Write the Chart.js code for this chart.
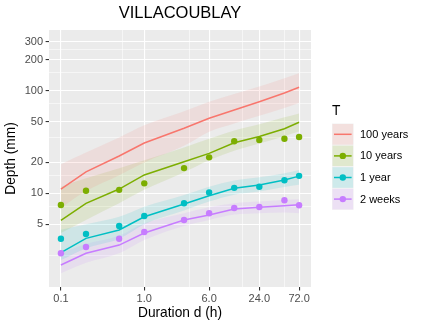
<!DOCTYPE html>
<html><head><meta charset="utf-8">
<script src="https://cdn.jsdelivr.net/npm/chart.js@4"></script>
<style>html,body{margin:0;padding:0;background:#fff}#wrap{width:425px;height:328px;position:relative}</style>
</head><body><div id="wrap"><canvas id="c" width="425" height="328"></canvas></div>
<script>
const FONT = "'Liberation Sans', Arial, Helvetica, sans-serif";
const durations = [0.1, 0.2, 0.5, 1, 3, 6, 12, 24, 48, 72];
const seriesNames = ['100 years', '10 years', '1 year', '2 weeks'];
const seriesColors = ['#F8766D', '#7CAE00', '#00BFC4', '#C77CFF'];

const line100y = [11.0, 16.2, 23.1, 30.9, 43.0, 53.8, 64.9, 78.1, 95.0, 108];
const upper100y = [19.2, 25, 35, 46, 63, 78, 93, 110, 132, 148];
const lower100y = [7.2, 10.5, 15, 20, 29, 39.8, 48, 57, 68, 76];

const line10y = [5.46, 7.99, 11.0, 15.1, 20.3, 24.5, 31.1, 35.8, 42.6, 49.2];
const upper10y = [11.6, 14, 17.5, 21, 28, 34, 41, 47, 55, 60];
const lower10y = [4.1, 5.5, 8.0, 10.8, 16, 21, 26, 30.5, 36, 40];
const obs10y = [7.69, 10.6, 10.8, 12.5, 17.6, 22.4, 32.2, 33.1, 34.0, 35.4];

const line1y = [2.64, 3.64, 4.39, 5.91, 7.87, 9.48, 11.2, 12.05, 13.5, 14.7];
const upper1y = [4.4, 5.0, 5.9, 7.4, 9.6, 11.6, 13.3, 14.3, 15.7, 16.9];
const lower1y = [2.23, 2.9, 3.6, 5.0, 6.8, 8.3, 9.7, 10.4, 11.5, 12.1];
const obs1y = [3.61, 4.01, 4.80, 6.01, 7.99, 10.2, 11.3, 11.6, 13.4, 14.8];

const line2w = [2.0, 2.60, 3.13, 4.10, 5.49, 6.14, 7.03, 7.30, 7.57, 7.74];
const upper2w = [2.6, 3.2, 3.85, 5.1, 6.4, 7.3, 8.0, 8.3, 8.6, 8.74];
const lower2w = [1.66, 2.1, 2.6, 3.5, 4.8, 5.5, 6.2, 6.4, 6.5, 6.4];
const obs2w = [2.60, 3.0, 3.61, 4.20, 5.49, 6.38, 7.19, 7.35, 8.55, 7.64];

const xMajorTicks = [0.1, 1, 6, 24, 72];
const xMinorTicks = [0.55, 3.5, 15, 48];
const yMajorTicks = [5, 10, 20, 50, 100, 200, 300];
const yMinorTicks = [2.5, 7.5, 15, 35, 75, 150, 250];

const lines = [line100y, line10y, line1y, line2w];
const uppers = [upper100y, upper10y, upper1y, upper2w];
const lowers = [lower100y, lower10y, lower1y, lower2w];
const obs = [null, obs10y, obs1y, obs2w];

function rgba(hex, a) {
  const n = parseInt(hex.slice(1), 16);
  return `rgba(${(n >> 16) & 255},${(n >> 8) & 255},${n & 255},${a})`;
}
const RIB_ALPHA = 0.12;
const pts = arr => durations.map((d, i) => ({x: d, y: arr[i]}));

const datasets = [];
seriesNames.forEach((name, i) => {
  const lowIdx = datasets.length;
  datasets.push({label: name + ' lower', data: pts(lowers[i]), borderWidth: 0, pointRadius: 0, fill: false, order: 3, showLine: true, tension: 0.3, cubicInterpolationMode: 'monotone', borderColor: 'rgba(0,0,0,0)'});
  datasets.push({label: name + ' upper', data: pts(uppers[i]), borderWidth: 0, pointRadius: 0, fill: lowIdx, order: 3, showLine: true, tension: 0.3, cubicInterpolationMode: 'monotone', borderColor: 'rgba(0,0,0,0)', backgroundColor: rgba(seriesColors[i], RIB_ALPHA)});
});
seriesNames.forEach((name, i) => {
  datasets.push({label: name, data: pts(lines[i]), borderColor: seriesColors[i], borderWidth: 1.5, pointRadius: 0, fill: false, tension: 0, order: 2, showLine: true});
});
seriesNames.forEach((name, i) => {
  if (!obs[i]) return;
  datasets.push({label: name + ' obs', data: pts(obs[i]), showLine: false, pointRadius: 3.2, pointHoverRadius: 3.2, pointBorderWidth: 0, pointBackgroundColor: seriesColors[i], backgroundColor: seriesColors[i], order: 1});
});

const panelBg = {
  id: 'panelBg',
  beforeDraw(chart) {
    const {ctx, chartArea: a} = chart;
    ctx.save();
    ctx.fillStyle = '#EBEBEB';
    ctx.fillRect(a.left, a.top, a.right - a.left, a.bottom - a.top);
    ctx.restore();
  }
};

const ggLegend = {
  id: 'ggLegend',
  afterDraw(chart) {
    const ctx = chart.ctx;
    const x0 = 332, y0 = 123.5, key = 21.6;
    ctx.save();
    ctx.fillStyle = '#000';
    ctx.font = `13.75px ${FONT}`;
    ctx.textBaseline = 'middle';
    ctx.textAlign = 'left';
    ctx.fillText('T', x0, 111);
    seriesNames.forEach((name, i) => {
      const y = y0 + i * key;
      ctx.fillStyle = '#F2F2F2';
      ctx.fillRect(x0, y, key, key);
      ctx.fillStyle = rgba(seriesColors[i], RIB_ALPHA + 0.03);
      ctx.fillRect(x0 + 0.5, y + 0.5, key - 1, key - 1);
      ctx.strokeStyle = seriesColors[i];
      ctx.lineWidth = 1.5;
      ctx.beginPath();
      ctx.moveTo(x0 + 2, y + key / 2);
      ctx.lineTo(x0 + key - 2, y + key / 2);
      ctx.stroke();
      if (obs[i]) {
        ctx.fillStyle = seriesColors[i];
        ctx.beginPath();
        ctx.arc(x0 + key / 2, y + key / 2, 3.2, 0, Math.PI * 2);
        ctx.fill();
      }
      ctx.fillStyle = '#000';
      ctx.font = `11px ${FONT}`;
      ctx.fillText(name, 360, y + key / 2 + 0.5);
    });
    ctx.restore();
  }
};

const isMajor = (list, v) => list.some(t => Math.abs(t - v) < 1e-9);

new Chart(document.getElementById('c'), {
  type: 'line',
  data: {datasets},
  plugins: [panelBg, ggLegend],
  options: {
    responsive: false,
    devicePixelRatio: 1,
    animation: false,
    events: [],
    layout: {padding: {left: 0, right: 114, top: 0, bottom: 0}},
    plugins: {
      legend: {display: false},
      tooltip: {enabled: false},
      title: {
        display: true, text: 'VILLACOUBLAY', color: '#000', fullSize: false,
        font: {family: FONT, size: 16.5, weight: 'normal', lineHeight: 1.2},
        padding: {top: 3.5, bottom: 6.7}
      }
    },
    scales: {
      x: {
        type: 'logarithmic', bounds: 'data',
        min: 0.07196, max: 100.04,
        border: {display: false},
        grid: {
          color: '#FFFFFF',
          lineWidth: c => isMajor(xMajorTicks, c.tick.value) ? 1.1 : 0.55,
          drawTicks: true, tickLength: 3.4, tickWidth: 1.1,
          tickColor: c => isMajor(xMajorTicks, c.tick.value) ? '#333333' : 'rgba(0,0,0,0)'
        },
        afterBuildTicks: s => { s.ticks = [...xMajorTicks, ...xMinorTicks].sort((a, b) => a - b).map(v => ({value: v})); },
        afterFit: s => { s.height = 41; },
        ticks: {
          autoSkip: false, maxRotation: 0, minRotation: 0, padding: 1.5, color: '#4D4D4D',
          font: {family: FONT, size: 11},
          callback: v => isMajor(xMajorTicks, v) ? Number(v).toFixed(1) : ''
        },
        title: {display: true, text: 'Duration d (h)', color: '#000', font: {family: FONT, size: 13.75}, padding: {top: 0, bottom: 6.4}}
      },
      y: {
        type: 'logarithmic', bounds: 'data',
        min: 1.221, max: 390.5,
        border: {display: false},
        grid: {
          color: '#FFFFFF',
          lineWidth: c => isMajor(yMajorTicks, c.tick.value) ? 1.1 : 0.55,
          drawTicks: true, tickLength: 3.4, tickWidth: 1.1,
          tickColor: c => isMajor(yMajorTicks, c.tick.value) ? '#333333' : 'rgba(0,0,0,0)'
        },
        afterBuildTicks: s => { s.ticks = [...yMajorTicks, ...yMinorTicks].sort((a, b) => a - b).map(v => ({value: v})); },
        afterFit: s => { s.width = 49; },
        ticks: {
          autoSkip: false, padding: 2.5, color: '#4D4D4D',
          font: {family: FONT, size: 11},
          callback: v => isMajor(yMajorTicks, v) ? String(v) : ''
        },
        title: {display: true, text: 'Depth (mm)', color: '#000', font: {family: FONT, size: 13.75}, padding: {top: 3.2, bottom: 0}}
      }
    }
  }
});
</script></body></html>
